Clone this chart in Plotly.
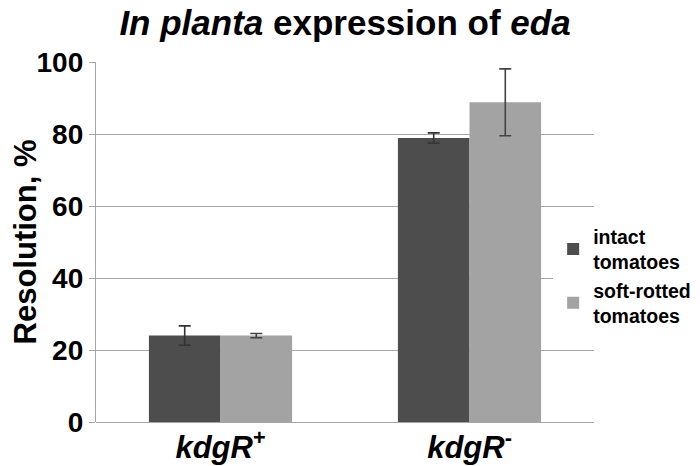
import plotly.graph_objects as go

categories = ["<b><i>kdgR</i><sup>+</sup></b>", "<b><i>kdgR</i><sup>-</sup></b>"]
intact = [24.0, 78.9]
intact_err = [2.7, 1.4]
rotted = [24.0, 88.8]
rotted_err = [0.6, 9.3]
series_names = ["<b>intact<br>tomatoes</b>", "<b>soft-rotted<br>tomatoes</b>"]
yticks = [0, 20, 40, 60, 80, 100]

FONT = "Liberation Sans, Arial, sans-serif"

fig = go.Figure()
fig.add_trace(go.Bar(
    x=categories, y=intact, name=series_names[0],
    marker=dict(color="#4d4d4d", line=dict(width=0)),
    error_y=dict(type="data", array=intact_err, color="#333333", thickness=1.6, width=6),
))
fig.add_trace(go.Bar(
    x=categories, y=rotted, name=series_names[1],
    marker=dict(color="#a3a3a3", line=dict(width=0)),
    error_y=dict(type="data", array=rotted_err, color="#444444", thickness=1.6, width=6),
))

fig.update_layout(
    width=700, height=466,
    margin=dict(l=88, r=114, t=54, b=52),
    paper_bgcolor="white", plot_bgcolor="white",
    barmode="group", bargap=0.425, bargroupgap=0,
    font=dict(family=FONT, color="black"),
    title=dict(
        text="<b><i>In planta</i> expression of <i>eda</i></b>",
        x=0.5, xref="paper", xanchor="center",
        y=0.969, yref="container", yanchor="middle",
        font=dict(size=35, family=FONT, color="black"),
    ),
    xaxis=dict(
        range=[-0.5, 1.5], automargin=False,
        showgrid=False, showline=False, zeroline=False,
        ticks="", ticklabelstandoff=4,
        tickfont=dict(size=31, family=FONT, color="black"),
    ),
    yaxis=dict(
        range=[0, 100], tickvals=yticks, automargin=False,
        showgrid=True, gridcolor="#a6a6a6", gridwidth=1.3,
        showline=True, linecolor="#a6a6a6", linewidth=1.3,
        zeroline=True, zerolinecolor="#a6a6a6", zerolinewidth=1.3,
        ticks="outside", ticklen=6, tickcolor="#a6a6a6",
        tickfont=dict(size=28, family=FONT, color="black", weight="bold"),
        title=dict(text="Resolution, %",
                   font=dict(size=31, family=FONT, color="black", weight="bold"),
                   standoff=6),
    ),
    legend=dict(
        x=0.918, xanchor="left", y=0.405, yanchor="middle",
        bgcolor="white", borderwidth=0,
        font=dict(size=19.5, family=FONT, color="black"),
        itemwidth=30,
    ),
)

fig.write_html("out.html")
